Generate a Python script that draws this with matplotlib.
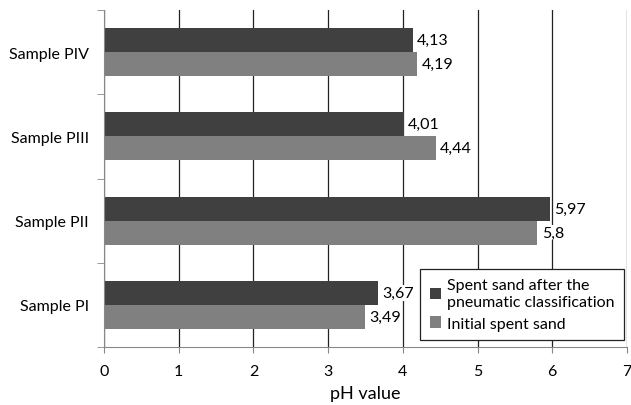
import numpy as np
import matplotlib.pyplot as plt

plt.rcParams['font.family'] = ['Lato', 'DejaVu Sans']

samples = ['Sample PI', 'Sample PII', 'Sample PIII', 'Sample PIV']
after_classification = [3.67, 5.97, 4.01, 4.13]
initial_sand = [3.49, 5.8, 4.44, 4.19]
series_names = ['Spent sand after the\npneumatic classification', 'Initial spent sand']


def fmt(v):
    return ('%g' % v).replace('.', ',')


fig = plt.figure(figsize=(6.31, 4.06), dpi=100)
ax = fig.add_axes([104 / 631, 1 - 348 / 406, 523 / 631, 337 / 406])

y = np.arange(len(samples))
h = 0.285
b1 = ax.barh(y + h / 2, after_classification, height=h, color='#404040', zorder=2,
             label=series_names[0])
b2 = ax.barh(y - h / 2, initial_sand, height=h, color='#808080', zorder=2,
             label=series_names[1])

for bars, vals in [(b1, after_classification), (b2, initial_sand)]:
    for r, v in zip(bars, vals):
        ax.text(v + 0.06, r.get_y() + r.get_height() / 2, fmt(v), va='center', ha='left',
                fontsize=11.5, zorder=3,
                bbox=dict(facecolor='white', edgecolor='none', pad=0.5))

ax.set_xlim(0, 7)
ax.set_ylim(-0.5, len(samples) - 0.5)
ax.set_xticks(range(8))
ax.xaxis.grid(True, color='#222222', linewidth=0.9, zorder=0)
ax.set_axisbelow(True)
ax.set_yticks(y)
ax.set_yticklabels(samples, fontsize=11.5)
ax.set_yticks(np.arange(-0.5, len(samples)), minor=True)
ax.tick_params(axis='y', which='major', length=0, pad=11)
ax.tick_params(axis='y', which='minor', length=5, color='#888888')
ax.tick_params(axis='x', length=4, color='#888888', labelsize=11.5, pad=8)
ax.set_xlabel('pH value', fontsize=13, labelpad=5)

for s in ['top', 'right']:
    ax.spines[s].set_visible(False)
ax.spines['left'].set_color('#888888')
ax.spines['bottom'].set_color('#888888')

leg = ax.legend(loc='lower right', bbox_to_anchor=(0.995, 0.02), fontsize=11.5, frameon=True,
                fancybox=False, edgecolor='#222222', framealpha=1, handlelength=0.7,
                handleheight=0.7, handletextpad=0.4, borderpad=0.6, labelspacing=0.5,
                borderaxespad=0)
leg.get_frame().set_linewidth(0.9)

fig.savefig('out.png', dpi=100)
